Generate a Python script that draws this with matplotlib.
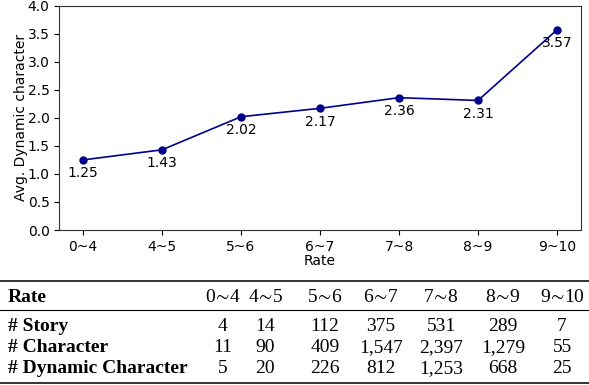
import matplotlib
matplotlib.use("Agg")
import matplotlib.pyplot as plt
from matplotlib.lines import Line2D

# data
rates = ["0~4", "4~5", "5~6", "6~7", "7~8", "8~9", "9~10"]
avg_dyn = [1.25, 1.43, 2.02, 2.17, 2.36, 2.31, 3.57]
n_story = [4, 14, 112, 375, 531, 289, 7]
n_char = [11, 90, 409, 1547, 2397, 1279, 55]
n_dyn = [5, 20, 226, 812, 1253, 668, 25]

plt.rcParams["mathtext.fontset"] = "stix"

W, H = 589, 385
fig = plt.figure(figsize=(W / 100, H / 100), dpi=100)
ax = fig.add_axes([59.3 / W, 1 - 230 / H, (580.7 - 59.3) / W, (230 - 5.7) / H])

x = list(range(len(rates)))
ax.plot(x, avg_dyn, color="darkblue", marker="o", markersize=5, linewidth=1.2)
for xi, v in zip(x, avg_dyn):
    ax.annotate(f"{v:.2f}", (xi, v), xytext=(0, -9.5), textcoords="offset points",
                ha="center", va="center", fontsize=10)

ax.set_xlim(-0.3, 6.3)
ax.set_ylim(0, 4.0)
ax.set_xticks(x)
ax.set_xticklabels(rates)
ax.set_yticks([0, 0.5, 1.0, 1.5, 2.0, 2.5, 3.0, 3.5, 4.0])
ax.tick_params(labelsize=10)
ax.set_xlabel("Rate", fontsize=10, labelpad=0)
ax.set_ylabel("Avg. Dynamic character", fontsize=10, labelpad=0)
for s in ax.spines.values():
    s.set_color("#333333")

# table underneath
serif = ["Liberation Serif", "DejaVu Serif"]
fs = 14
col_x = [223, 265, 325, 381, 441, 503, 562]

def fy(py):
    return 1 - py / H

fig.add_artist(Line2D([0, 1], [fy(281), fy(281)], color="#333333", lw=1.4))
fig.add_artist(Line2D([0, 1], [fy(310), fy(310)], color="black", lw=0.8))
fig.add_artist(Line2D([0, 1], [fy(383), fy(383)], color="#333333", lw=1.4))

fig.text(8 / W, fy(302), "Rate", family=serif, weight="bold", fontsize=fs, va="baseline")
for cx, r in zip(col_x, rates):
    lo, hi = r.split("~")
    fig.text(cx / W, fy(302), lo + r"$\!\sim\!$" + hi, family=serif, fontsize=fs,
             ha="center", va="baseline")

rows = [("# Story", n_story, 331), ("# Character", n_char, 352),
        ("# Dynamic Character", n_dyn, 373)]
for name, vals, by in rows:
    fig.text(8 / W, fy(by), name, family=serif, weight="bold", fontsize=fs, va="baseline")
    for cx, v in zip(col_x, vals):
        fig.text(cx / W, fy(by), f"{v:,}", family=serif, fontsize=fs,
                 ha="center", va="baseline")

fig.savefig("out.png", dpi=100)
